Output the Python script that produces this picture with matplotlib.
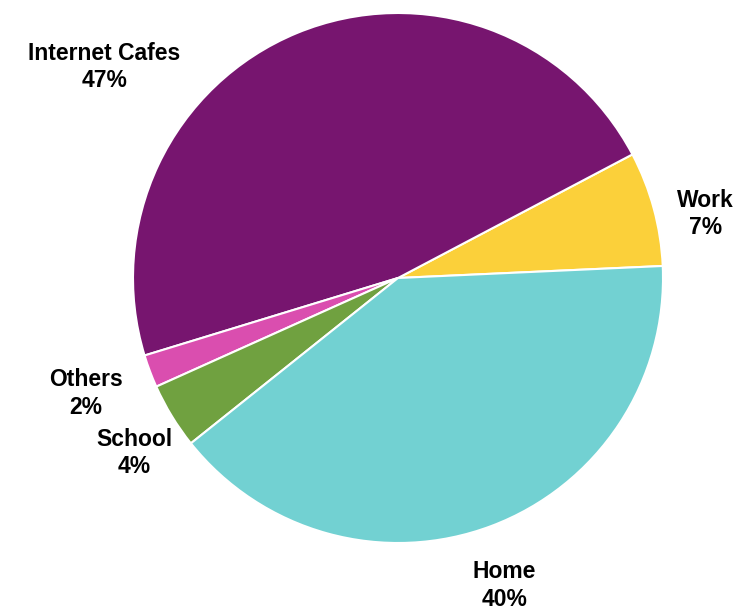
import matplotlib.pyplot as plt
import numpy as np

labels = ["Work", "Internet Cafes", "Others", "School", "Home"]
shares = [7, 47, 2, 4, 40]
colors = ["#FBD03A", "#77156F", "#DA4EAF", "#70A140", "#72D1D2"]

# label placement (angle in degrees, distance in radii)
label_angles = [11.8, 144.3, 200.3, 213.6, 289.1]
label_dists = [1.185, 1.365, 1.255, 1.195, 1.228]

plt.rcParams["font.family"] = ["Liberation Sans", "DejaVu Sans"]

fig = plt.figure(figsize=(7.51, 6.1), dpi=100)
ax = fig.add_axes([0, 0, 1, 1])

ax.pie(
    shares,
    colors=colors,
    startangle=2.6,
    counterclock=True,
    radius=1.0,
    wedgeprops={"edgecolor": "white", "linewidth": 1.5},
)

for name, value, ang, dist in zip(labels, shares, label_angles, label_dists):
    theta = np.radians(ang)
    ax.text(
        dist * np.cos(theta),
        dist * np.sin(theta),
        f"{name}\n{value}%",
        ha="center",
        va="center",
        fontsize=16.5,
        fontweight="bold",
        linespacing=1.25,
        color="black",
    )

# 265 px per unit, pie centre at (398, 278) from top-left
px = 265.0
ax.set_xlim(-398 / px, (751 - 398) / px)
ax.set_ylim(-332 / px, 278 / px)
ax.set_aspect("auto")
ax.axis("off")

fig.savefig("out.png", dpi=100)
